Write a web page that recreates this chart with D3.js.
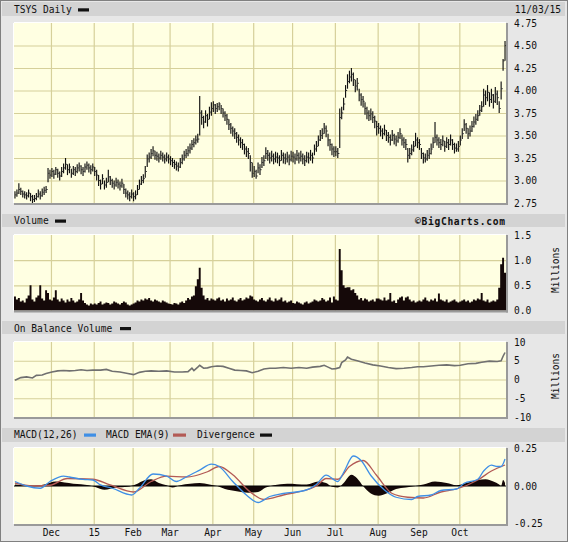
<!DOCTYPE html>
<html><head><meta charset="utf-8">
<script src="https://cdn.jsdelivr.net/npm/d3@7"></script>
<style>
html,body{margin:0;padding:0;background:#e6e6e6;}
svg{display:block;}
text{font-family:"DejaVu Sans Mono",monospace;font-size:9.6px;fill:#111;}
</style></head><body>
<svg id="c" width="568" height="542"></svg>
<script>
// ---------- DATA ----------
const monthLabels = ["Dec","15","Feb","Mar","Apr","May","Jun","Jul","Aug","Sep","Oct"];
const monthStarts = [19,41,61,80,102,123,143,165,187,208,229];
const nDays = 253;

const close = [
2.84,2.86,2.90,2.88,2.85,2.84,2.83,2.86,2.82,2.79,2.80,2.82,2.85,2.83,2.87,2.89,2.90,3.08,3.06,
3.10,3.07,3.12,3.08,3.05,3.10,3.14,3.18,3.12,3.15,3.08,3.12,3.10,3.14,3.16,3.12,3.10,3.15,3.17,3.14,3.12,3.15,
3.10,3.06,3.00,2.96,3.02,2.95,2.98,3.04,3.00,2.97,2.95,2.98,2.96,2.94,2.97,2.90,2.86,2.84,2.82,2.85,
2.82,2.84,2.90,2.96,3.00,3.02,3.10,3.24,3.26,3.30,3.33,3.28,3.27,3.25,3.28,3.26,3.24,3.26,3.24,
3.22,3.20,3.18,3.16,3.15,3.20,3.24,3.28,3.30,3.33,3.36,3.40,3.42,3.45,3.46,3.75,3.70,3.65,3.72,3.68,3.76,3.80,
3.84,3.80,3.82,3.85,3.80,3.75,3.72,3.68,3.62,3.58,3.55,3.52,3.48,3.45,3.42,3.40,3.35,3.32,3.30,3.20,3.08,
3.10,3.05,3.14,3.12,3.20,3.22,3.30,3.28,3.25,3.27,3.24,3.26,3.25,3.22,3.28,3.25,3.24,3.26,3.23,3.27,
3.26,3.24,3.28,3.25,3.27,3.24,3.22,3.26,3.25,3.28,3.25,3.35,3.38,3.45,3.50,3.52,3.58,3.55,3.45,3.40,3.35,3.32,
3.32,3.30,3.70,3.75,3.85,4.00,4.10,4.15,4.18,4.12,4.05,4.08,3.95,3.90,3.88,3.80,3.75,3.72,3.74,3.70,3.66,3.60,
3.58,3.55,3.52,3.56,3.50,3.48,3.45,3.50,3.46,3.44,3.48,3.52,3.45,3.42,3.40,3.28,3.30,3.34,3.38,3.45,3.42,
3.40,3.30,3.25,3.24,3.28,3.30,3.35,3.42,3.48,3.45,3.42,3.40,3.44,3.38,3.42,3.40,3.45,3.40,3.36,3.35,3.38,
3.45,3.52,3.62,3.58,3.52,3.55,3.60,3.65,3.68,3.72,3.78,3.82,3.95,3.92,3.98,3.90,3.95,3.88,3.96,3.92,3.80,4.02,
4.33,4.50];
const high = [
2.88,2.90,2.97,2.92,2.89,2.88,2.87,2.90,2.86,2.84,2.84,2.86,2.90,2.88,2.91,2.93,2.94,3.14,3.12,
3.14,3.12,3.15,3.13,3.10,3.15,3.19,3.25,3.18,3.19,3.13,3.16,3.15,3.18,3.20,3.17,3.15,3.19,3.21,3.19,3.17,3.19,
3.15,3.12,3.06,3.01,3.07,3.00,3.03,3.12,3.05,3.02,3.00,3.03,3.01,2.99,3.02,2.96,2.91,2.89,2.87,2.90,
2.87,2.89,2.95,3.01,3.05,3.07,3.16,3.29,3.31,3.35,3.38,3.33,3.32,3.30,3.33,3.31,3.29,3.31,3.29,
3.27,3.25,3.23,3.21,3.20,3.25,3.29,3.33,3.35,3.38,3.41,3.45,3.47,3.50,3.52,3.94,3.78,3.72,3.78,3.74,3.82,3.87,
3.88,3.85,3.86,3.87,3.84,3.80,3.77,3.74,3.68,3.64,3.60,3.58,3.54,3.51,3.48,3.46,3.41,3.38,3.36,3.28,3.20,
3.16,3.12,3.20,3.18,3.26,3.28,3.37,3.34,3.31,3.33,3.30,3.32,3.31,3.28,3.34,3.31,3.30,3.32,3.29,3.33,
3.32,3.30,3.34,3.31,3.33,3.30,3.28,3.32,3.31,3.34,3.31,3.40,3.44,3.50,3.56,3.58,3.64,3.61,3.52,3.46,3.41,3.38,
3.38,3.36,3.80,3.82,3.92,4.06,4.18,4.22,4.25,4.20,4.12,4.14,4.02,3.97,3.94,3.87,3.82,3.78,3.80,3.77,3.72,3.66,
3.64,3.61,3.58,3.62,3.56,3.54,3.51,3.56,3.52,3.50,3.54,3.58,3.51,3.48,3.46,3.36,3.36,3.40,3.44,3.53,3.48,
3.46,3.36,3.31,3.30,3.34,3.36,3.41,3.48,3.65,3.51,3.48,3.46,3.50,3.44,3.48,3.46,3.51,3.46,3.42,3.41,3.44,
3.50,3.58,3.68,3.64,3.58,3.61,3.66,3.71,3.74,3.78,3.84,3.88,4.02,4.00,4.06,3.98,4.02,3.96,4.04,4.00,3.88,4.10,
4.35,4.55];
const low = [
2.80,2.82,2.85,2.84,2.81,2.80,2.79,2.81,2.77,2.75,2.76,2.78,2.81,2.79,2.82,2.84,2.86,2.98,3.02,
3.04,3.02,3.06,3.03,3.00,3.04,3.08,3.12,3.06,3.08,3.03,3.06,3.05,3.08,3.10,3.07,3.05,3.09,3.12,3.09,3.07,3.10,
3.05,3.00,2.94,2.90,2.96,2.90,2.92,2.98,2.95,2.92,2.90,2.93,2.91,2.89,2.92,2.85,2.81,2.79,2.77,2.80,
2.77,2.79,2.84,2.90,2.95,2.97,3.03,3.15,3.20,3.24,3.27,3.23,3.22,3.20,3.23,3.21,3.19,3.21,3.19,
3.17,3.15,3.13,3.11,3.10,3.14,3.18,3.22,3.25,3.27,3.30,3.34,3.37,3.40,3.42,3.50,3.62,3.58,3.64,3.60,3.68,3.72,
3.76,3.74,3.76,3.78,3.74,3.70,3.66,3.62,3.56,3.52,3.49,3.46,3.42,3.39,3.36,3.34,3.29,3.26,3.24,3.10,3.03,
3.04,3.02,3.08,3.06,3.14,3.16,3.24,3.22,3.19,3.21,3.18,3.20,3.19,3.16,3.22,3.19,3.18,3.20,3.17,3.21,
3.20,3.18,3.22,3.19,3.21,3.18,3.16,3.20,3.19,3.22,3.19,3.28,3.32,3.38,3.44,3.46,3.52,3.48,3.38,3.33,3.28,3.26,
3.27,3.25,3.36,3.68,3.78,3.92,4.02,4.08,4.10,4.05,3.98,4.00,3.88,3.83,3.81,3.73,3.68,3.66,3.67,3.64,3.58,3.50,
3.52,3.49,3.46,3.50,3.44,3.42,3.39,3.44,3.40,3.38,3.42,3.46,3.39,3.36,3.34,3.20,3.24,3.28,3.32,3.38,3.36,
3.34,3.24,3.19,3.20,3.22,3.24,3.29,3.36,3.42,3.39,3.36,3.34,3.38,3.32,3.36,3.34,3.39,3.34,3.30,3.32,3.32,
3.39,3.46,3.55,3.52,3.46,3.49,3.54,3.59,3.62,3.66,3.72,3.76,3.82,3.84,3.88,3.82,3.86,3.80,3.86,3.84,3.75,3.90,
4.22,4.33];

const volume = [ // millions
0.28,0.22,0.25,0.18,0.20,0.16,0.24,0.30,0.50,0.22,0.18,0.26,0.30,0.50,0.24,0.20,0.40,0.35,0.22,
0.20,0.26,0.40,0.22,0.18,0.24,0.20,0.16,0.22,0.18,0.25,0.20,0.16,0.18,0.22,0.35,0.20,0.15,0.12,0.10,0.14,0.12,
0.14,0.12,0.15,0.18,0.12,0.14,0.16,0.15,0.12,0.14,0.18,0.16,0.14,0.12,0.15,0.18,0.16,0.12,0.10,0.12,
0.14,0.16,0.20,0.18,0.22,0.20,0.24,0.22,0.25,0.20,0.18,0.22,0.20,0.18,0.16,0.20,0.18,0.16,0.14,
0.13,0.12,0.15,0.14,0.12,0.16,0.18,0.15,0.20,0.25,0.22,0.28,0.30,0.48,0.62,0.85,0.45,0.30,0.22,0.25,0.20,0.24,
0.22,0.20,0.24,0.26,0.20,0.22,0.18,0.24,0.20,0.22,0.26,0.20,0.18,0.22,0.25,0.20,0.22,0.26,0.24,0.30,0.28,
0.22,0.20,0.18,0.22,0.25,0.20,0.18,0.22,0.26,0.20,0.18,0.24,0.20,0.22,0.26,0.18,0.20,0.16,0.18,0.20,
0.15,0.14,0.18,0.16,0.14,0.12,0.16,0.18,0.14,0.16,0.18,0.22,0.20,0.18,0.20,0.25,0.22,0.18,0.20,0.26,0.16,0.28,
0.22,0.20,1.22,0.80,0.50,0.45,0.46,0.46,0.40,0.42,0.35,0.30,0.22,0.25,0.20,0.24,0.22,0.18,0.20,0.22,0.18,0.24,
0.24,0.22,0.20,0.26,0.20,0.22,0.35,0.18,0.20,0.15,0.22,0.26,0.28,0.20,0.26,0.28,0.22,0.18,0.20,0.16,0.18,
0.20,0.18,0.22,0.26,0.20,0.18,0.22,0.20,0.24,0.18,0.34,0.22,0.20,0.18,0.22,0.16,0.18,0.20,0.22,0.18,0.16,
0.18,0.20,0.22,0.18,0.20,0.16,0.18,0.22,0.20,0.24,0.22,0.35,0.20,0.18,0.22,0.16,0.18,0.20,0.18,0.22,0.45,0.92,
1.05,0.75];

const obvIdx = [0,3,6,9,11,14,16,19,22,25,28,31,34,37,40,44,47,50,54,58,61,64,67,70,74,78,82,86,89,91,92,94,95,97,99,101,104,107,110,113,116,119,122,125,128,131,134,138,142,146,150,153,157,159,161,163,165,167,168,170,171,173,176,180,184,188,192,196,200,204,207,210,214,218,222,226,229,233,237,240,244,248,250,251,252];
const obvVal = [-0.2,0.5,0.7,0.4,1.1,1.2,1.6,2.0,2.3,2.4,2.3,2.4,2.6,2.4,2.5,2.5,2.7,2.2,2.0,1.6,1.3,1.9,2.2,2.3,2.2,2.3,2.0,2.0,2.1,3.0,2.4,3.3,3.8,3.0,3.1,3.4,3.6,3.5,3.0,2.5,2.4,2.3,1.8,2.2,2.8,3.0,3.0,3.2,3.0,3.2,3.0,3.3,3.5,3.8,3.3,2.8,2.9,3.2,4.5,5.2,6.0,5.4,5.0,4.4,3.9,3.6,3.2,2.9,3.0,3.2,3.4,3.4,3.6,3.8,3.9,3.7,3.8,4.2,4.3,4.6,4.9,4.8,5.0,6.2,7.2];

const macdIdx = [0,6,13,18,25,28,35,40,44,50,60,64,71,78,83,88,95,101,105,112,119,125,131,138,149,155,160,166,169,174,178,183,190,196,204,207,214,219,227,231,238,241,245,248,250,252];
const macdVal = [0.03,0.0,-0.015,0.03,0.066,0.06,0.044,0.04,0.007,-0.015,-0.06,-0.015,0.08,0.066,0.03,0.06,0.106,0.146,0.13,0.03,-0.06,-0.11,-0.07,-0.05,-0.03,0.01,0.073,0.03,0.09,0.2,0.17,0.07,-0.026,-0.075,-0.09,-0.07,-0.06,-0.03,-0.02,0.018,0.045,0.1,0.139,0.13,0.13,0.18];
const sigIdx = [0,9,18,27,40,49,61,70,78,88,99,105,112,121,128,138,155,160,166,172,179,186,194,202,210,219,227,238,245,252];
const sigVal = [0.02,0.0,0.005,0.05,0.045,0.007,-0.04,0.03,0.066,0.06,0.095,0.13,0.075,-0.04,-0.09,-0.06,0.0,0.05,0.045,0.13,0.17,0.07,-0.05,-0.075,-0.08,-0.04,-0.02,0.04,0.1,0.14];
const divIdx = [0,10,15,21,30,38,42,46,52,58,62,67,70,74,78,81,85,90,95,100,104,108,114,120,125,129,133,140,150,156,160,163,166,169,173,176,179,183,187,191,196,201,206,210,216,222,227,232,238,242,246,249,250,251,252];
const divVal = [0.01,0.0,0.01,0.03,0.015,0.005,-0.01,-0.025,-0.01,-0.005,0.01,0.04,0.045,0.02,0.005,-0.01,0.005,0.015,0.02,0.01,0.0,-0.02,-0.035,-0.045,-0.04,-0.01,0.005,0.015,0.01,0.03,0.02,-0.005,-0.01,0.02,0.075,0.05,0.0,-0.05,-0.065,-0.05,-0.02,-0.01,0.0,0.01,0.03,0.02,0.005,0.02,0.04,0.045,0.03,0.01,0.0,0.04,0.02];

const priceTicks = [2.75,3.00,3.25,3.50,3.75,4.00,4.25,4.50,4.75];
const volTicks = [0.0,0.5,1.0,1.5];
const obvTicks = [-10,-5,0,5,10];
const macdTicks = [-0.25,0,0.25];

// ---------- DRAW ----------
const W = 568, H = 542, L = 14, R = 506;
const svg = d3.select("#c");
svg.append("rect").attr("x",0.5).attr("y",0.5).attr("width",W-1).attr("height",H-1)
  .attr("fill","#e7e7e7").attr("stroke","#808080");

const x = d3.scaleLinear().domain([0, nDays]).range([L, R]);
const cx = i => x(i + 0.5);

const PLOT_BG = "#ffffe2", GRID = "#d6d09a";

function header(y0, y1, items) {
  svg.append("rect").attr("x",2).attr("y",y0).attr("width",W-5).attr("height",y1-y0).attr("fill","#d3d3d3");
  items.forEach(it => {
    if (it.t) svg.append("text").attr("x",it.x).attr("y",it.y).text(it.t);
    if (it.sw) svg.append("rect").attr("x",it.x).attr("y",it.y).attr("width",it.w).attr("height",3.2).attr("fill",it.sw);
  });
}

function panel(top, bottom, y, ticks, fmt, hgrid, id) {
  const g = svg.append("g");
  g.append("rect").attr("x",L).attr("y",top).attr("width",R-L).attr("height",bottom-top).attr("fill",PLOT_BG);
  g.append("g").attr("transform",`translate(0,${bottom})`)
    .call(d3.axisBottom(x).tickValues(monthStarts).tickSize(-(bottom-top)).tickFormat(""))
    .call(s => s.select(".domain").remove())
    .call(s => s.selectAll("line").attr("stroke",GRID).attr("stroke-width",1.2));
  g.append("g").attr("transform",`translate(${L},0)`)
    .call(d3.axisLeft(y).tickValues(hgrid).tickSize(-(R-L)).tickFormat(""))
    .call(s => s.select(".domain").remove())
    .call(s => s.selectAll("line").attr("stroke",GRID).attr("stroke-width",1.2));
  svg.append("g").attr("transform",`translate(${R},0)`)
    .call(d3.axisRight(y).tickValues(ticks).tickSize(0).tickPadding(8).tickFormat(fmt))
    .call(s => s.select(".domain").remove())
    .call(s => s.selectAll("text").attr("font-family","DejaVu Sans Mono").attr("font-size","9.6px").attr("fill","#111"));
  svg.append("clipPath").attr("id",id).append("rect").attr("x",L).attr("y",top).attr("width",R-L).attr("height",bottom-top);
  return svg.append("g").attr("clip-path",`url(#${id})`);
}
function frame(top, bottom) {
  svg.append("line").attr("x1",L).attr("x2",R).attr("y1",top-0.5).attr("y2",top-0.5).attr("stroke","#ffffff");
  svg.append("line").attr("x1",L-0.5).attr("x2",L-0.5).attr("y1",top).attr("y2",bottom).attr("stroke","#ffffff");
  svg.append("line").attr("x1",L).attr("x2",R+2).attr("y1",bottom+1).attr("y2",bottom+1).attr("stroke","#9a9a9a").attr("stroke-width",2);
  svg.append("line").attr("x1",R+1).attr("x2",R+1).attr("y1",top).attr("y2",bottom+2).attr("stroke","#9a9a9a").attr("stroke-width",2);
}

// ---- Price panel ----
header(2, 16, [{t:"TSYS Daily",x:14,y:12.7},{sw:"#111",x:78,y:8.3,w:11}]);
svg.append("text").attr("x",561).attr("y",12.7).attr("text-anchor","end").text("11/03/15");
const yP = d3.scaleLinear().domain([2.75,4.75]).range([203,23]);
const gP = panel(23, 203, yP, priceTicks, d => d.toFixed(2), priceTicks.slice(1,-1), "cp");
const bars = close.map((c,i) => ({i, c, h: high[i], l: low[i]}));
gP.selectAll("line.hl").data(bars).join("line").attr("class","hl")
  .attr("x1",d=>cx(d.i)).attr("x2",d=>cx(d.i)).attr("y1",d=>yP(d.h)).attr("y2",d=>yP(d.l))
  .attr("stroke","#111").attr("stroke-width",1.15);
gP.selectAll("line.cl").data(bars).join("line").attr("class","cl")
  .attr("x1",d=>cx(d.i)).attr("x2",d=>cx(d.i)+1.6).attr("y1",d=>yP(d.c)).attr("y2",d=>yP(d.c))
  .attr("stroke","#333").attr("stroke-width",1);
frame(23, 203);

// ---- Volume panel ----
header(214, 227, [{t:"Volume",x:14,y:224},{sw:"#111",x:55,y:219.5,w:11}]);
svg.append("text").attr("x",505).attr("y",224.5).attr("text-anchor","end")
  .attr("font-family","DejaVu Sans").attr("font-weight","bold").attr("font-size","9.6px")
  .attr("fill","#858585").attr("textLength",90).text("©BigCharts.com");
const yV = d3.scaleLinear().domain([0,1.5]).range([310.5,235]);
const gV = panel(235, 310.5, yV, volTicks, d => d.toFixed(1), [0.5,1.0], "cv");
const volPts = volume.map((v,i)=>({i, v})).concat([{i: nDays, v: volume[volume.length-1]}]);
gV.append("path").datum(volPts)
  .attr("d", d3.area().x(d=>x(d.i)).y0(yV(0)+1).y1(d=>yV(d.v)).curve(d3.curveStepAfter))
  .attr("fill","#150909");
frame(235, 310.5);
svg.append("text").attr("transform","translate(559,270) rotate(-90)").attr("text-anchor","middle").text("Millions");

// ---- OBV panel ----
header(321, 334, [{t:"On Balance Volume",x:14,y:331.5},{sw:"#111",x:120,y:327,w:11}]);
const yO = d3.scaleLinear().domain([-10,10]).range([417,342]);
const gO = panel(342, 417, yO, obvTicks, d => String(d), [-5,0,5], "co");
const obvData = obvIdx.map((d,k)=>({i:d, v:obvVal[k]}));
gO.append("path").datum(obvData)
  .attr("d", d3.line().x(d=>cx(d.i)).y(d=>yO(d.v)))
  .attr("fill","none").attr("stroke","#707070").attr("stroke-width",1.6);
frame(342, 417);
svg.append("text").attr("transform","translate(559,376) rotate(-90)").attr("text-anchor","middle").text("Millions");

// ---- MACD panel ----
header(428, 442, [
  {t:"MACD(12,26)",x:14,y:438},{sw:"#3f8fe6",x:84,y:433.5,w:12},
  {t:"MACD EMA(9)",x:106,y:438},{sw:"#b35a55",x:173,y:433.5,w:13},
  {t:"Divergence",x:197,y:438},{sw:"#111",x:260,y:433.5,w:12}]);
const yM = d3.scaleLinear().domain([-0.25,0.25]).range([523.5,448.5]);
const gM = panel(448, 524, yM, macdTicks, d => d.toFixed(2), [], "cm");
const divData = divIdx.map((d,k)=>({i:d, v:divVal[k]}));
gM.append("path").datum(divData)
  .attr("d", d3.area().x(d=>cx(d.i)).y0(yM(0)).y1(d=>yM(d.v)).curve(d3.curveMonotoneX))
  .attr("fill","#140808");
gM.append("line").attr("x1",L).attr("x2",R).attr("y1",yM(0)).attr("y2",yM(0)).attr("stroke","#000").attr("stroke-width",1);
const sigData = sigIdx.map((d,k)=>({i:d, v:sigVal[k]}));
const macdData = macdIdx.map((d,k)=>({i:d, v:macdVal[k]}));
gM.append("path").datum(sigData)
  .attr("d", d3.line().x(d=>cx(d.i)).y(d=>yM(d.v)).curve(d3.curveMonotoneX))
  .attr("fill","none").attr("stroke","#b35a55").attr("stroke-width",1.3);
gM.append("path").datum(macdData)
  .attr("d", d3.line().x(d=>cx(d.i)).y(d=>yM(d.v)).curve(d3.curveMonotoneX))
  .attr("fill","none").attr("stroke","#3f8fe6").attr("stroke-width",1.3);
frame(448, 524);

// ---- X axis month labels ----
svg.append("g").attr("transform","translate(0,527)")
  .call(d3.axisBottom(x).tickValues(monthStarts).tickSize(0).tickPadding(2)
    .tickFormat((d,k)=>monthLabels[k]))
  .call(s => s.select(".domain").remove())
  .call(s => s.selectAll("text").attr("font-family","DejaVu Sans Mono").attr("font-size","9.6px").attr("fill","#111"));
</script>
</body></html>
